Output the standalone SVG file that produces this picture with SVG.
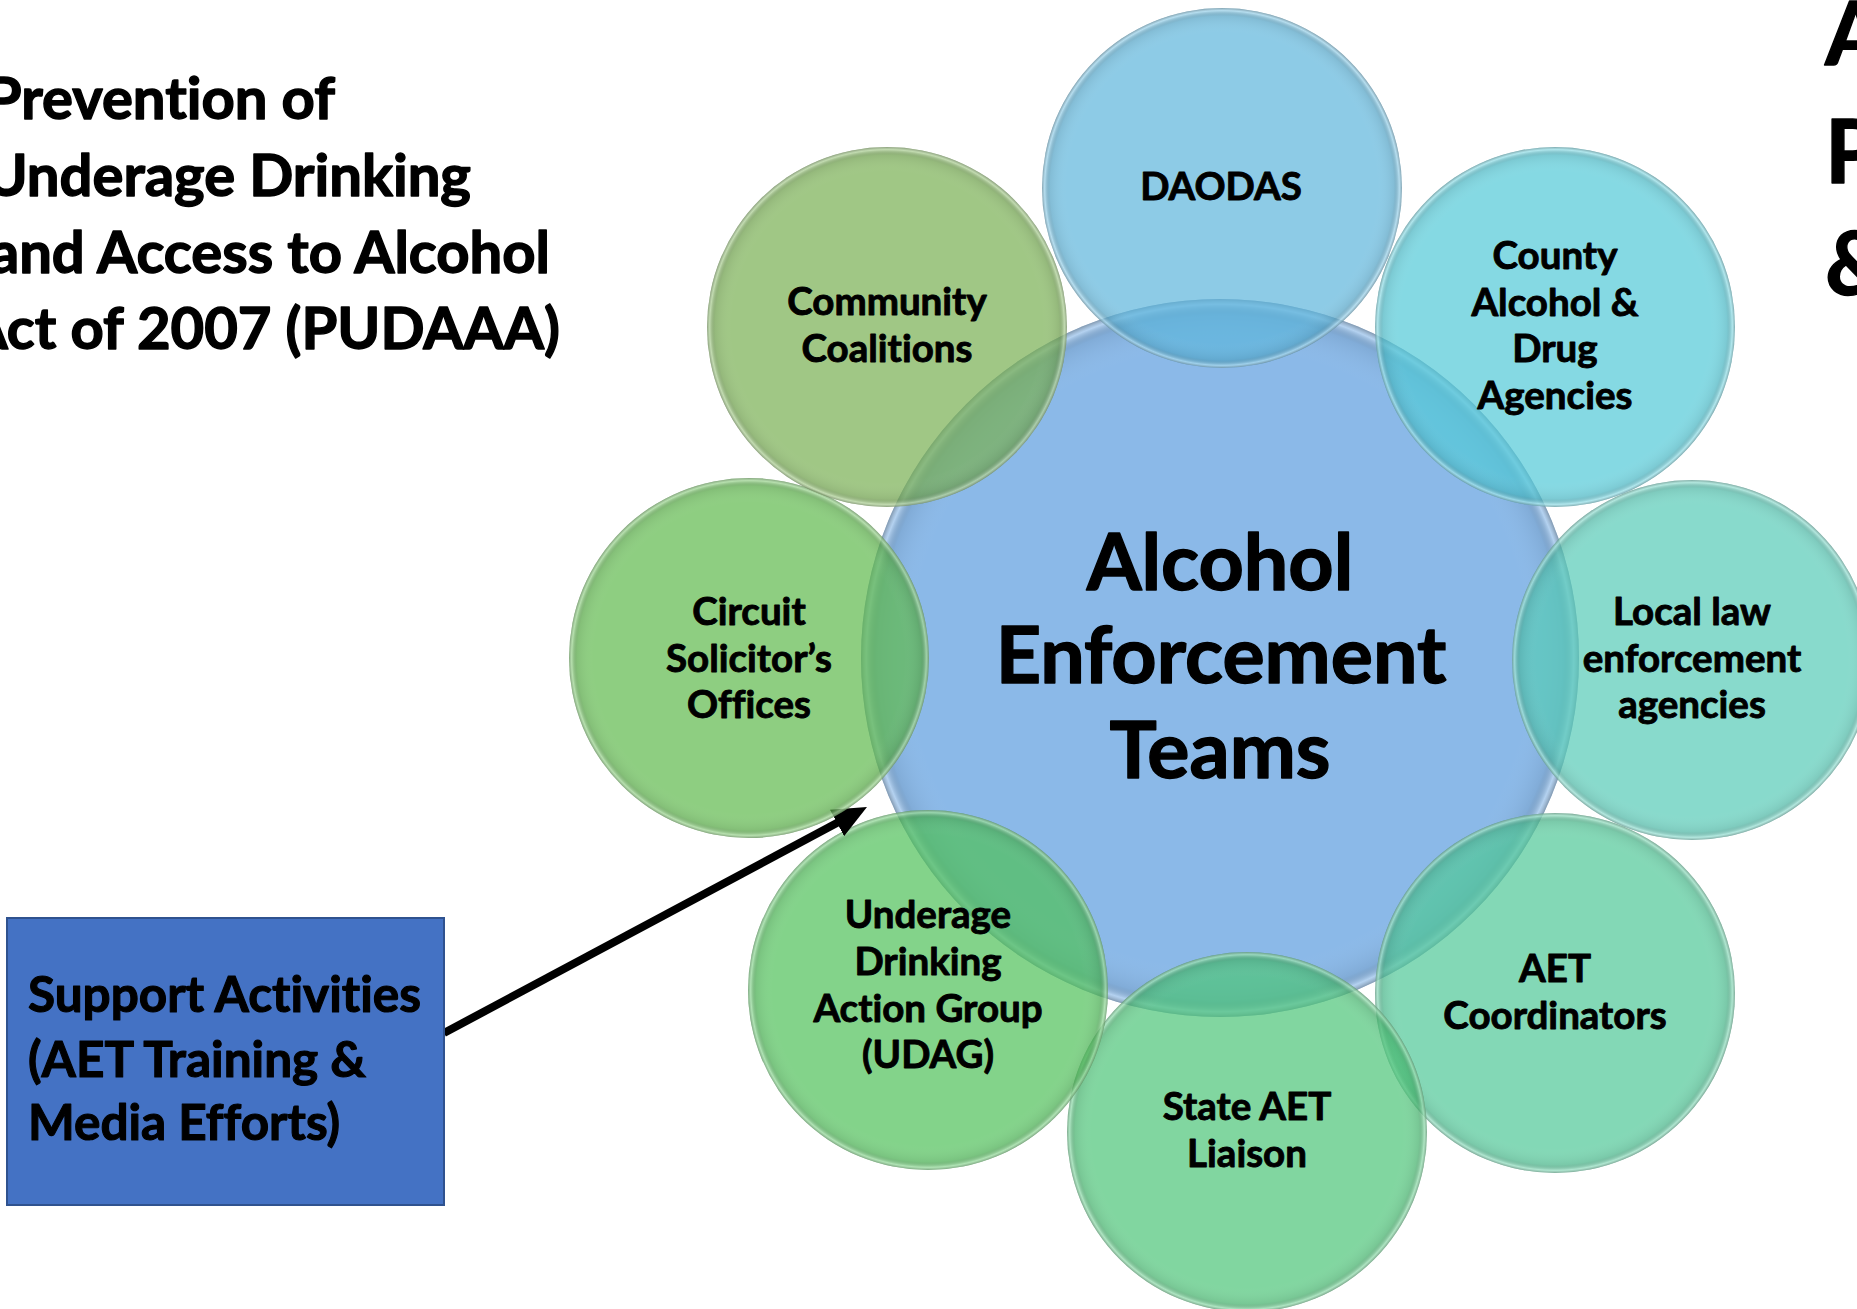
<svg xmlns="http://www.w3.org/2000/svg" width="1857" height="1309" viewBox="0 0 1857 1309">
<defs>
<style>
.t{font-family:Lato,"Liberation Sans",sans-serif;font-weight:700;fill:#000;text-anchor:middle;stroke:#000;stroke-width:0.9px;stroke-linejoin:round;font-variant-ligatures:none;font-feature-settings:"liga" 0,"dlig" 0}
.o{font-size:38.5px}
.big{stroke-width:1.4px}
.ring{fill:url(#glass)}
.bub{opacity:0.7}
</style>
<radialGradient id="glass" cx="50%" cy="50%" r="50%">
<stop offset="0" stop-color="#fff" stop-opacity="0"/>
<stop offset="0.86" stop-color="#fff" stop-opacity="0"/>
<stop offset="0.955" stop-color="#000" stop-opacity="0.07"/>
<stop offset="0.985" stop-color="#fff" stop-opacity="0.35"/>
<stop offset="1" stop-color="#777" stop-opacity="0.5"/>
</radialGradient>
<marker id="ah" viewBox="0 0 34 30" refX="12" refY="15" markerWidth="34" markerHeight="30" markerUnits="userSpaceOnUse" orient="auto">
<path d="M0,0 L34,15 L0,30 z" fill="#000"/>
</marker>
</defs>
<rect width="1857" height="1309" fill="#fff"/>

<g id="title">
<text class="t big" style="font-size:58px;text-anchor:end"><tspan x="335" y="119">Prevention of</tspan><tspan x="471" y="196">Underage Drinking</tspan><tspan x="550" y="273">and Access to Alcohol</tspan><tspan x="560" y="349">Act of 2007 (PUDAAA)</tspan></text>
</g>
<g id="right-cut">
<text class="t big" style="font-size:88px;text-anchor:start"><tspan x="1825" y="65">A</tspan><tspan x="1825" y="183">P</tspan><tspan x="1825" y="295">&amp;</tspan></text>
</g>

<g id="center">
<circle cx="1220" cy="658" r="359" fill="#8BB9E8"/>
<circle cx="1220" cy="658" r="359" class="ring"/>
<text class="t big" style="font-size:79px"><tspan x="1220" y="590">Alcohol</tspan><tspan x="1221" y="683">Enforcement</tspan><tspan x="1220" y="778">Teams</tspan></text>
</g>

<g id="daodas">
<circle cx="1222" cy="188" r="180" fill="#5CB5DB" class="bub"/>
<circle cx="1222" cy="188" r="180" class="ring"/>
<text class="t o" x="1221" y="200">DAODAS</text>
</g>

<g id="county">
<circle cx="1555" cy="327" r="180" fill="#51C9D7" class="bub"/>
<circle cx="1555" cy="327" r="180" class="ring"/>
<text class="t o"><tspan x="1555" y="269">County</tspan><tspan x="1555" y="315.5">Alcohol &amp;</tspan><tspan x="1555" y="362">Drug</tspan><tspan x="1555" y="408.5">Agencies</tspan></text>
</g>

<g id="local">
<circle cx="1692" cy="660" r="180" fill="#55CAB6" class="bub"/>
<circle cx="1692" cy="660" r="180" class="ring"/>
<text class="t o"><tspan x="1692" y="625">Local law</tspan><tspan x="1692" y="672">enforcement</tspan><tspan x="1692" y="718">agencies</tspan></text>
</g>

<g id="aet-coordinators">
<circle cx="1555" cy="993" r="180" fill="#4FC797" class="bub"/>
<circle cx="1555" cy="993" r="180" class="ring"/>
<text class="t o"><tspan x="1555" y="982">AET</tspan><tspan x="1555" y="1028.5">Coordinators</tspan></text>
</g>

<g id="state-aet">
<circle cx="1247" cy="1132" r="180" fill="#4CC477" class="bub"/>
<circle cx="1247" cy="1132" r="180" class="ring"/>
<text class="t o"><tspan x="1247" y="1120">State AET</tspan><tspan x="1247" y="1167">Liaison</tspan></text>
</g>

<g id="udag">
<circle cx="928" cy="990" r="180" fill="#4EC058" class="bub"/>
<circle cx="928" cy="990" r="180" class="ring"/>
<text class="t o"><tspan x="928" y="928">Underage</tspan><tspan x="928" y="975">Drinking</tspan><tspan x="928" y="1022">Action Group</tspan><tspan x="928" y="1068">(UDAG)</tspan></text>
</g>

<g id="connectors">
<path d="M444,1033 L847.6,817.3" stroke="#000" stroke-width="8" fill="none" marker-end="url(#ah)"/>
</g>

<g id="circuit">
<circle cx="749" cy="658" r="180" fill="#5EB94C" class="bub"/>
<circle cx="749" cy="658" r="180" class="ring"/>
<text class="t o"><tspan x="749" y="625">Circuit</tspan><tspan x="749" y="672">Solicitor’s</tspan><tspan x="749" y="718">Offices</tspan></text>
</g>

<g id="community">
<circle cx="887" cy="327" r="180" fill="#77AF51" class="bub"/>
<circle cx="887" cy="327" r="180" class="ring"/>
<text class="t o"><tspan x="887" y="315">Community</tspan><tspan x="887" y="362">Coalitions</tspan></text>
</g>

<g id="support">
<rect x="7" y="918" width="437" height="287" fill="#4472C4" stroke="#2F528F" stroke-width="2"/>
<text class="t" style="font-size:49.5px;text-anchor:start;stroke-width:1.1px"><tspan x="28" y="1012">Support Activities</tspan><tspan x="28" y="1077">(AET Training &amp;</tspan><tspan x="28" y="1140">Media Efforts)</tspan></text>
</g>
</svg>
